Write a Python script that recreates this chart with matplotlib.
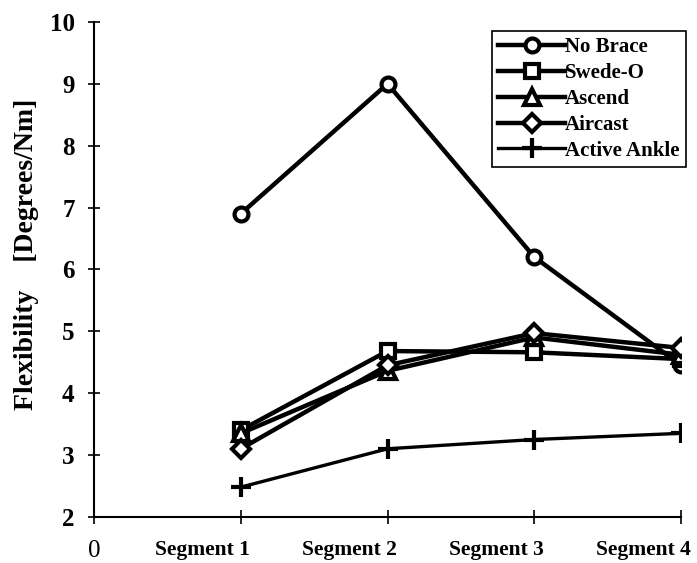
import matplotlib
matplotlib.use('Agg')
import matplotlib.pyplot as plt
import matplotlib.transforms as mtransforms

segments = ['Segment 1', 'Segment 2', 'Segment 3', 'Segment 4']
x_pos = [1, 2, 3, 4]

no_brace = [6.9, 9.0, 6.2, 4.45]
swede_o = [3.4, 4.68, 4.66, 4.55]
ascend = [3.35, 4.36, 4.9, 4.62]
aircast = [3.1, 4.45, 4.97, 4.73]
active_ankle = [2.48, 3.1, 3.25, 3.35]

plt.rcParams['font.family'] = ['Liberation Serif', 'DejaVu Serif']

fig = plt.figure(figsize=(6.97, 5.63), dpi=100)
ax = fig.add_axes([0.135, 0.082, 0.842, 0.879])

series = [
    ('No Brace', no_brace, 'o', 10, 3.2),
    ('Swede-O', swede_o, 's', 10, 3.2),
    ('Ascend', ascend, '^', 11, 3.2),
    ('Aircast', aircast, 'D', 9, 3.2),
    ('Active Ankle', active_ankle, '+', 15, 2.4),
]
for name, vals, m, ms, lw in series:
    ax.plot(x_pos, vals, color='black', lw=lw, marker=m, ms=ms,
            mfc='white', mec='black', mew=3, label=name)

ax.set_xlim(0, 4)
ax.set_ylim(2, 10)
ax.set_xticks([0] + x_pos)
ax.set_xticklabels(['0'] + segments, fontsize=15.5, fontweight='bold')
ax.set_yticks(range(2, 11))
ax.tick_params(axis='y', labelsize=18, direction='inout', length=8, width=1.2, pad=10)
ax.tick_params(axis='x', direction='inout', length=10, width=1.2, pad=12)
for lab in ax.get_yticklabels():
    lab.set_fontweight('bold')
# segment labels sit left of their ticks, as in the original
shift = mtransforms.ScaledTranslation(-38 / 100, 0, fig.dpi_scale_trans)
for lab in ax.get_xticklabels()[1:]:
    lab.set_transform(lab.get_transform() + shift)
ax.get_xticklabels()[0].set_fontsize(18)
ax.get_xticklabels()[0].set_fontweight('normal')
ax.spines['top'].set_visible(False)
ax.spines['right'].set_visible(False)
ax.spines['left'].set_linewidth(1.5)
ax.spines['bottom'].set_linewidth(1.5)

ax.set_ylabel('Flexibility    [Degrees/Nm]', fontsize=20, fontweight='bold')
ax.yaxis.set_label_coords(-0.094, 0.53)

leg = ax.legend(loc='upper right', bbox_to_anchor=(1.015, 0.99), fancybox=False,
                edgecolor='black', framealpha=1, prop={'weight': 'bold', 'size': 15},
                handlelength=3.2, handletextpad=0.0, labelspacing=0.28, borderpad=0.3,
                borderaxespad=0.2)
leg.get_frame().set_linewidth(1.2)

fig.savefig('out.png', dpi=100)
